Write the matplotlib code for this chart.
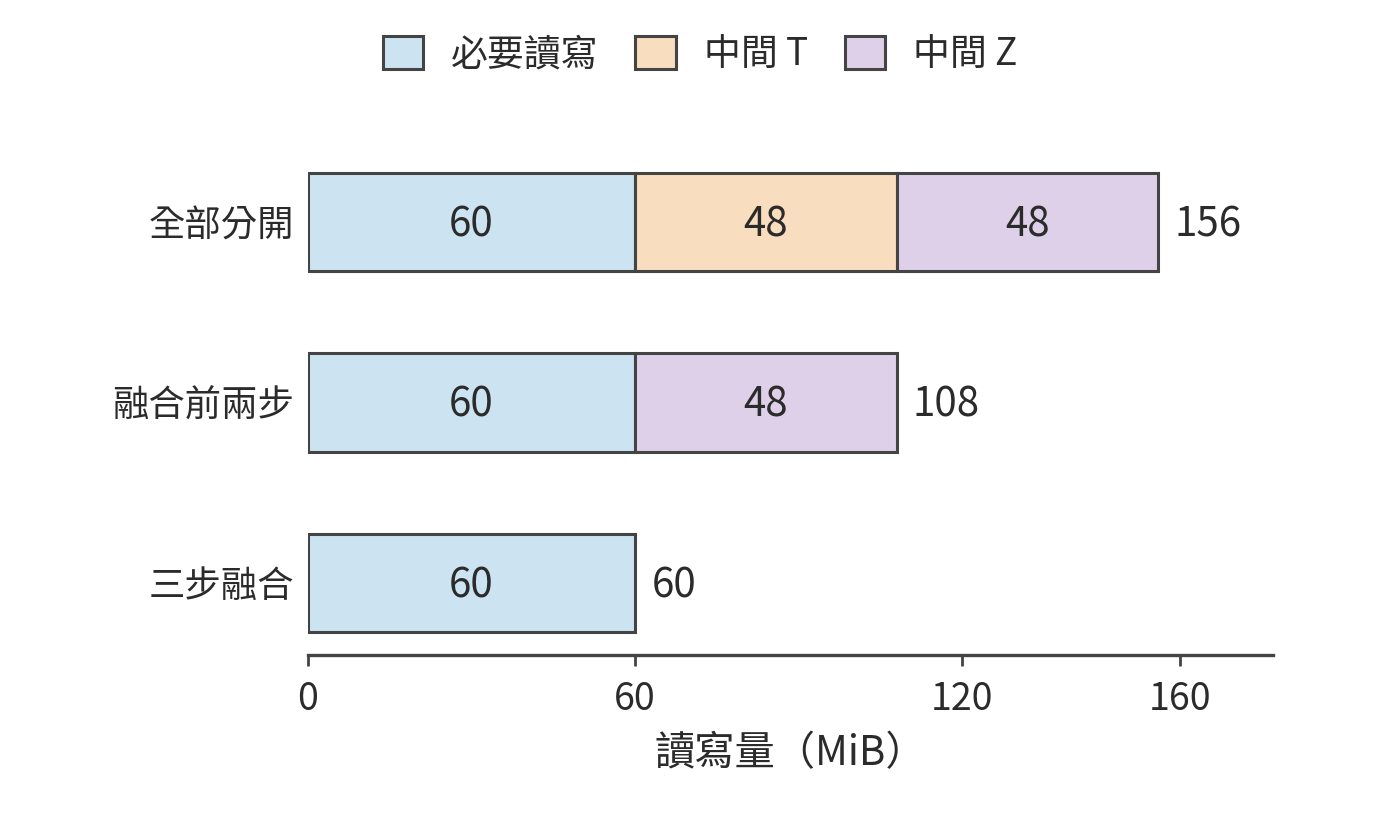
import matplotlib
matplotlib.use('Agg')
import matplotlib.pyplot as plt
import numpy as np

plt.rcParams['font.family'] = ['Noto Sans CJK TC', 'DejaVu Sans']

# 資料
categories = ['三步融合', '融合前兩步', '全部分開']
required_rw = [60, 60, 60]
mid_t = [0, 0, 48]
mid_z = [0, 48, 48]
series_names = ['必要讀寫', '中間 T', '中間 Z']
colors = ['#cce3f2', '#f8ddbf', '#ded0e8']
edge = '#444444'
text_color = '#2b2b2b'

fig = plt.figure(figsize=(7, 4.2), dpi=200)
ax = fig.add_axes([0.22, 0.2202, 0.689, 0.6012])

y = np.arange(len(categories))
h = 0.545

# 依序堆疊
left = np.zeros(len(categories))
handles = []
for vals, name, c in zip([required_rw, mid_t, mid_z], series_names, colors):
    vals = np.array(vals, dtype=float)
    mask = vals > 0
    bars = ax.barh(y[mask], vals[mask], left=left[mask], height=h,
                   color=c, edgecolor=edge, linewidth=1.1, label=name)
    for yi, v, l in zip(y[mask], vals[mask], left[mask]):
        ax.text(l + v / 2, yi - 0.015, f'{int(v)}', ha='center', va='center',
                fontsize=14.5, color=text_color)
    left = left + vals
    handles.append(bars)

# 總量標籤
for yi, tot in zip(y, left):
    ax.text(tot + 3, yi - 0.015, f'{int(tot)}', ha='left', va='center',
            fontsize=14.5, color=text_color)

ax.set_xlim(0, 177)
ax.set_ylim(-0.4, 2.4)
ax.set_yticks(y)
ax.set_yticklabels(categories, fontsize=13.1, color=text_color)
ax.set_xticks([0, 60, 120, 160])
ax.tick_params(axis='x', labelsize=13.5, colors=text_color, length=4,
               width=1.0, color=edge, pad=5)
ax.tick_params(axis='y', length=0, pad=5)
ax.set_xlabel('讀寫量（MiB）', fontsize=14.5, color=text_color, labelpad=5)

for s in ['top', 'right', 'left']:
    ax.spines[s].set_visible(False)
ax.spines['bottom'].set_color(edge)
ax.spines['bottom'].set_linewidth(1.2)

fig.legend(handles=handles, labels=series_names, loc='center',
           bbox_to_anchor=(0.5, 0.935), ncol=3, frameon=False,
           fontsize=13.3, handlelength=1.1, handleheight=1.0,
           columnspacing=1.0, handletextpad=0.75, labelcolor=text_color)

fig.savefig('out.png', dpi=200)
